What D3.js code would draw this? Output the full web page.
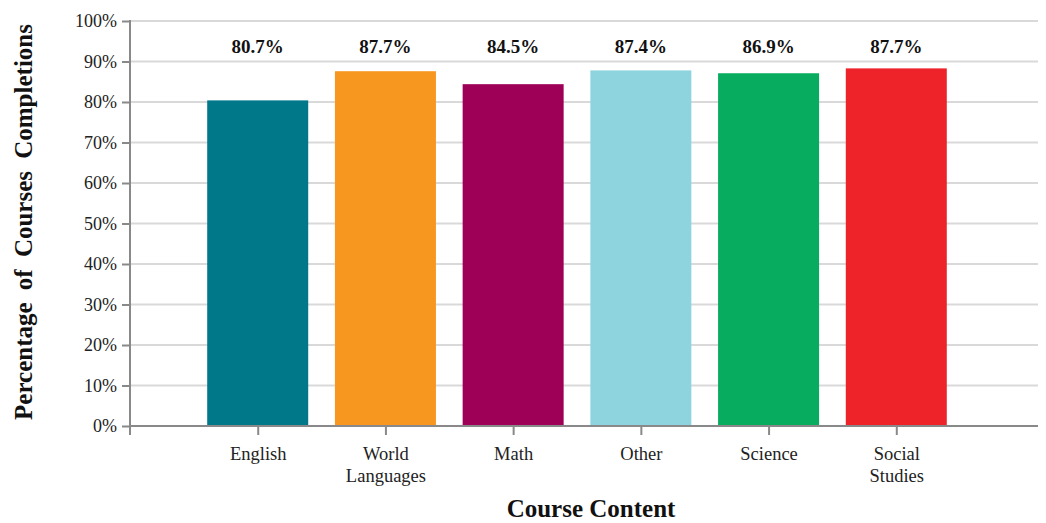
<!DOCTYPE html>
<html>
<head>
<meta charset="utf-8">
<script src="https://cdn.jsdelivr.net/npm/d3@7"></script>
<style>
  body { margin: 0; background: #fff; }
  svg { display: block; font-family: "Liberation Serif", "Times New Roman", serif; }
</style>
</head>
<body>
<svg width="1046" height="523"></svg>
<script>
// data
const categories = ["English", "World Languages", "Math", "Other", "Science", "Social Studies"];
const barValues = [80.4, 87.6, 84.4, 87.8, 87.1, 88.3]; // bar heights as drawn
const labels = ["80.7%", "87.7%", "84.5%", "87.4%", "86.9%", "87.7%"];
const colors = ["#00788a", "#f7971f", "#9e0057", "#8dd4df", "#07ac5f", "#ee2229"];
const yTicks = [0, 10, 20, 30, 40, 50, 60, 70, 80, 90, 100];

const svg = d3.select("svg");
const plotLeft = 130, plotRight = 1038, plotTop = 21, plotBottom = 426;

const x = d3.scalePoint().domain(categories).range([plotLeft, 1024]).padding(1);
const y = d3.scaleLinear().domain([0, 100]).range([plotBottom, plotTop]);
const barW = 101;

// gridlines
svg.append("g")
  .selectAll("line")
  .data(yTicks.filter(d => d > 0))
  .join("line")
  .attr("x1", plotLeft).attr("x2", plotRight)
  .attr("y1", d => y(d)).attr("y2", d => y(d))
  .attr("stroke", "#d9d9d9")
  .attr("stroke-width", 2);

// bars
svg.append("g")
  .selectAll("rect")
  .data(categories)
  .join("rect")
  .attr("x", d => x(d) - barW / 2)
  .attr("y", (d, i) => y(barValues[i]))
  .attr("width", barW)
  .attr("height", (d, i) => y(0) - y(barValues[i]))
  .attr("fill", (d, i) => colors[i]);

// value labels in a row along the top
svg.append("g")
  .selectAll("text")
  .data(categories)
  .join("text")
  .attr("x", d => x(d))
  .attr("y", 53)
  .attr("text-anchor", "middle")
  .attr("font-weight", "bold")
  .attr("font-size", 19)
  .attr("fill", "#111")
  .text((d, i) => labels[i]);

// y axis
const yAxis = svg.append("g")
  .attr("transform", `translate(${plotLeft},0)`)
  .call(d3.axisLeft(y).tickValues(yTicks).tickFormat(d => d + "%").tickSize(8).tickPadding(5));
yAxis.select(".domain").remove();
yAxis.selectAll(".tick line").attr("stroke", "#898989").attr("stroke-width", 2);
yAxis.selectAll(".tick text")
  .attr("font-family", "Liberation Serif, serif")
  .attr("font-size", 18)
  .attr("fill", "#222");
yAxis.append("line")
  .attr("x1", 0).attr("x2", 0)
  .attr("y1", plotTop - 1).attr("y2", plotBottom + 9)
  .attr("stroke", "#898989").attr("stroke-width", 2);

// x axis
const xAxis = svg.append("g")
  .attr("transform", `translate(0,${plotBottom})`)
  .call(d3.axisBottom(x).tickSize(9).tickPadding(0));
xAxis.select(".domain").remove();
xAxis.append("line")
  .attr("x1", plotLeft).attr("x2", plotRight)
  .attr("stroke", "#898989").attr("stroke-width", 2);
xAxis.selectAll(".tick line").attr("stroke", "#898989").attr("stroke-width", 2);
xAxis.selectAll(".tick text").remove();
xAxis.selectAll(".tick")
  .append("text")
  .attr("text-anchor", "middle")
  .attr("font-family", "Liberation Serif, serif")
  .attr("font-size", 18.5)
  .attr("fill", "#222")
  .selectAll("tspan")
  .data(d => d.split(" "))
  .join("tspan")
  .attr("x", 0)
  .attr("y", (d, i) => 34 + i * 21.5)
  .text(d => d);

// axis titles
svg.append("text")
  .attr("x", 591)
  .attr("y", 517)
  .attr("text-anchor", "middle")
  .attr("font-weight", "bold")
  .attr("font-size", 25)
  .attr("fill", "#111")
  .text("Course Content");

svg.append("text")
  .attr("transform", "translate(32,222) rotate(-90)")
  .attr("text-anchor", "middle")
  .attr("font-weight", "bold")
  .attr("font-size", 25)
  .attr("word-spacing", 6)
  .attr("fill", "#111")
  .text("Percentage of Courses Completions");
</script>
</body>
</html>
